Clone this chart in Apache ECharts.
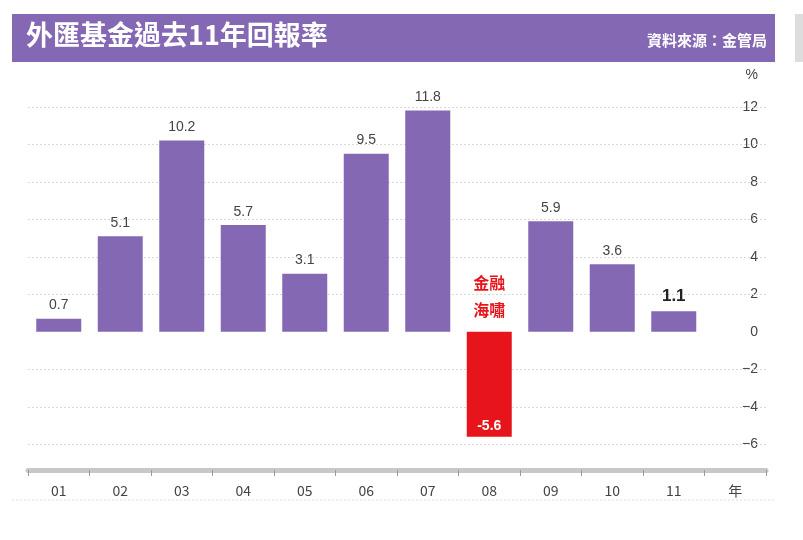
<!DOCTYPE html>
<html><head><meta charset="utf-8">
<script src="https://cdn.jsdelivr.net/npm/echarts@6/dist/echarts.min.js"></script>
<style>html,body{margin:0;padding:0;background:#fff}#c{width:803px;height:540px}</style>
</head><body><div id="c"></div>
<script>
const categories = ['01','02','03','04','05','06','07','08','09','10','11','年'];
const values = [0.7,5.1,10.2,5.7,3.1,9.5,11.8,-5.6,5.9,3.6,1.1,null];
const yTicks = [-6,-4,-2,0,2,4,6,8,10,12];
const purple = '#8468b4';
const chart = echarts.init(document.getElementById('c'));
const data = values.map((v,i)=>{
  if(v===null) return '-';
  if(v<0) return {value:v,itemStyle:{color:'#e8141c'},label:{position:'insideBottom',color:'#fff',fontWeight:'bold',distance:4}};
  if(i===10) return {value:v,label:{fontSize:17,fontWeight:'bold',color:'#222'}};
  return v;
});
chart.setOption({
  animation:false,
  grid:{left:28,right:37,top:88,bottom:77},
  xAxis:{type:'category',data:categories,offset:7,
    axisLine:{onZero:false,lineStyle:{color:'#c8c8c8',width:5}},
    axisTick:{show:true,length:6,lineStyle:{color:'#999'}},
    axisLabel:{color:'#444',fontSize:14,margin:14,fontFamily:'Noto Sans CJK TC'}},
  yAxis:{type:'value',position:'right',min:-7,max:13,interval:1,
    name:'%',nameGap:6,nameTextStyle:{color:'#444',fontSize:14,align:'right',padding:[0,8,0,0]},
    axisLine:{show:false},axisTick:{show:false},
    axisLabel:{inside:true,margin:8,color:'#444',fontSize:14,
      formatter:v=>yTicks.includes(v)?(v<0?'−'+(-v):String(v)):''},
    splitLine:{show:false}},
  series:[
    {type:'line',data:[],z:1,
      markLine:{silent:true,symbol:'none',z:1,label:{show:false},lineStyle:{color:'#d8d8d8',type:[2,2],width:1},
        data:yTicks.filter(v=>v!==0).map(v=>({yAxis:v}))}},
    {type:'bar',z:3,data:data,barWidth:45,itemStyle:{color:purple},
      label:{show:true,position:'top',color:'#444',fontSize:14,distance:6}}
  ]
});
const p = chart.convertToPixel({xAxisIndex:0,yAxisIndex:0},['08',0]);
chart.setOption({graphic:[
  {type:'rect',shape:{x:12,y:14,width:763,height:48},style:{fill:purple}},
  {type:'rect',shape:{x:795,y:14,width:8,height:48},style:{fill:'#ddd'}},
  {type:'text',x:26,y:21,style:{text:'外匯基金過去11年回報率',fill:'#fff',fontSize:27,fontWeight:'bold',fontFamily:'Noto Sans CJK TC'}},
  {type:'text',x:767,y:33,style:{text:'資料來源：金管局',fill:'#fff',fontSize:15,fontWeight:'bold',fontFamily:'Noto Sans CJK TC',align:'right'}},
  {type:'line',shape:{x1:12,y1:500,x2:775,y2:500},style:{stroke:'#ddd',lineWidth:1,lineDash:[2,2]}},
  {type:'text',x:p[0],y:p[1]-62,style:{text:'金融\n海嘯',fill:'#e8141c',fontSize:16,fontWeight:'bold',fontFamily:'Noto Sans CJK TC',align:'center',lineHeight:27}}
]});
</script></body></html>
